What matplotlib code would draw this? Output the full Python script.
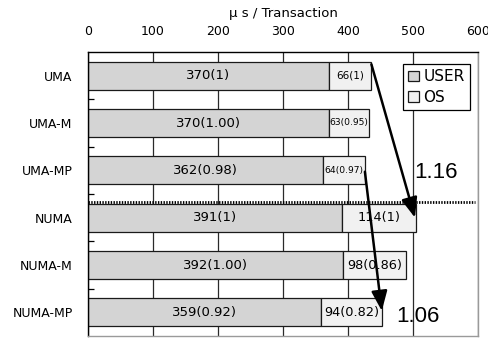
import matplotlib
matplotlib.use("Agg")
import matplotlib.pyplot as plt
from matplotlib.ticker import FixedLocator

# Per-transaction time (microseconds), split into user and OS parts
configs = ["UMA", "UMA-M", "UMA-MP", "NUMA", "NUMA-M", "NUMA-MP"]
user_us = [370, 370, 362, 391, 392, 359]
os_us = [66, 63, 64, 114, 98, 94]
baseline = [0, 0, 0, 3, 3, 3]          # index of the reference config for each row
x_ticks = [0, 100, 200, 300, 400, 500, 600]

USER_C = "#d4d4d4"
OS_C = "#f1f1f1"
EDGE = "#1a1a1a"
BASE_FONT = "DejaVu Sans"


def ratio_label(vals, i):
    b = baseline[i]
    if i == b:
        return f"{vals[i]}(1)"
    return f"{vals[i]}({vals[i] / vals[b]:.2f})"


fig = plt.figure(figsize=(4.89, 3.40), dpi=100)
ax = fig.add_axes([88 / 489, 1 - 336 / 340, (478 - 88) / 489, (336 - 52) / 340])

ypos = list(range(len(configs)))
bar_h = 0.59
totals = [u + o for u, o in zip(user_us, os_us)]

ax.barh(ypos, user_us, height=bar_h, color=USER_C, edgecolor=EDGE,
        linewidth=0.9, label="USER", zorder=2)
ax.barh(ypos, os_us, left=user_us, height=bar_h, color=OS_C, edgecolor=EDGE,
        linewidth=0.9, label="OS", zorder=2)

# value labels inside the segments
for i in ypos:
    ax.text(user_us[i] / 2, i, ratio_label(user_us, i), ha="center", va="center",
            fontsize=9.5, family=BASE_FONT, zorder=3)
    lab = ratio_label(os_us, i)
    if os_us[i] < 70:
        size = 7.5 if i == baseline[i] else 6.6
    else:
        size = 9.3
    ax.text(user_us[i] + os_us[i] / 2, i, lab, ha="center", va="center",
            fontsize=size, family=BASE_FONT, zorder=3)

ax.set_xlim(0, 600)
ax.set_ylim(len(configs) - 0.5, -0.5)

# x axis on top
ax.xaxis.tick_top()
ax.xaxis.set_label_position("top")
ax.set_xticks(x_ticks)
ax.set_xticklabels([str(t) for t in x_ticks], fontsize=9, family=BASE_FONT)
ax.tick_params(axis="x", length=0, pad=10)
ax.set_xlabel("μ s / Transaction", fontsize=9.5, family=BASE_FONT, labelpad=6)

# categories on the left, small marks at the band edges
ax.set_yticks(ypos)
ax.set_yticklabels(configs, fontsize=9, family=BASE_FONT)
ax.tick_params(axis="y", which="major", length=0, pad=11)
ax.yaxis.set_minor_locator(FixedLocator([k + 0.5 for k in range(len(configs) - 1)]))
ax.tick_params(axis="y", which="minor", direction="in", length=4, width=0.9,
               color="black")

ax.grid(axis="x", color="#2a2a2a", linewidth=0.9, zorder=0)
ax.set_axisbelow(True)

for side in ("top", "left"):
    ax.spines[side].set_color("black")
    ax.spines[side].set_linewidth(1.0)
for side in ("right", "bottom"):
    ax.spines[side].set_color("#9a9a9a")
    ax.spines[side].set_linewidth(1.0)

# dotted separator between UMA and NUMA groups
sep_y = 3 - bar_h / 2 - 0.03
ax.plot([0, 595], [sep_y, sep_y], color="black", linewidth=2.0,
        linestyle=(0, (0.5, 0.5)), zorder=4, clip_on=False)

# arrows from UMA totals to NUMA totals with the growth factor
arrow_kw = dict(arrowstyle="-|>,head_length=0.75,head_width=0.3", color="black",
                linewidth=1.8, shrinkA=0, shrinkB=0, mutation_scale=16)
ax.annotate("", xy=(totals[3] - 2, 3.0), xytext=(totals[0], -0.24),
            arrowprops=arrow_kw, zorder=5)
ax.annotate("", xy=(totals[5] - 1, 4.97), xytext=(totals[2], 2.03),
            arrowprops=arrow_kw, zorder=5)

ax.text(535, 2.05, f"{totals[3] / totals[0]:.2f}", ha="center", va="center",
        fontsize=16, family="Liberation Sans", zorder=6)
ax.text(508, 5.08, f"{totals[5] / totals[2]:.2f}", ha="center", va="center",
        fontsize=16, family="Liberation Sans", zorder=6)

leg = ax.legend(loc="upper right", bbox_to_anchor=(0.979, 0.958),
                prop={"family": BASE_FONT, "size": 11}, frameon=True,
                fancybox=False, edgecolor="black", framealpha=1,
                handlelength=0.7, handleheight=0.7, handletextpad=0.3,
                labelspacing=0.35, borderpad=0.35, borderaxespad=0)
leg.get_frame().set_linewidth(0.9)
leg.set_zorder(7)

fig.savefig("out.png", dpi=100)
